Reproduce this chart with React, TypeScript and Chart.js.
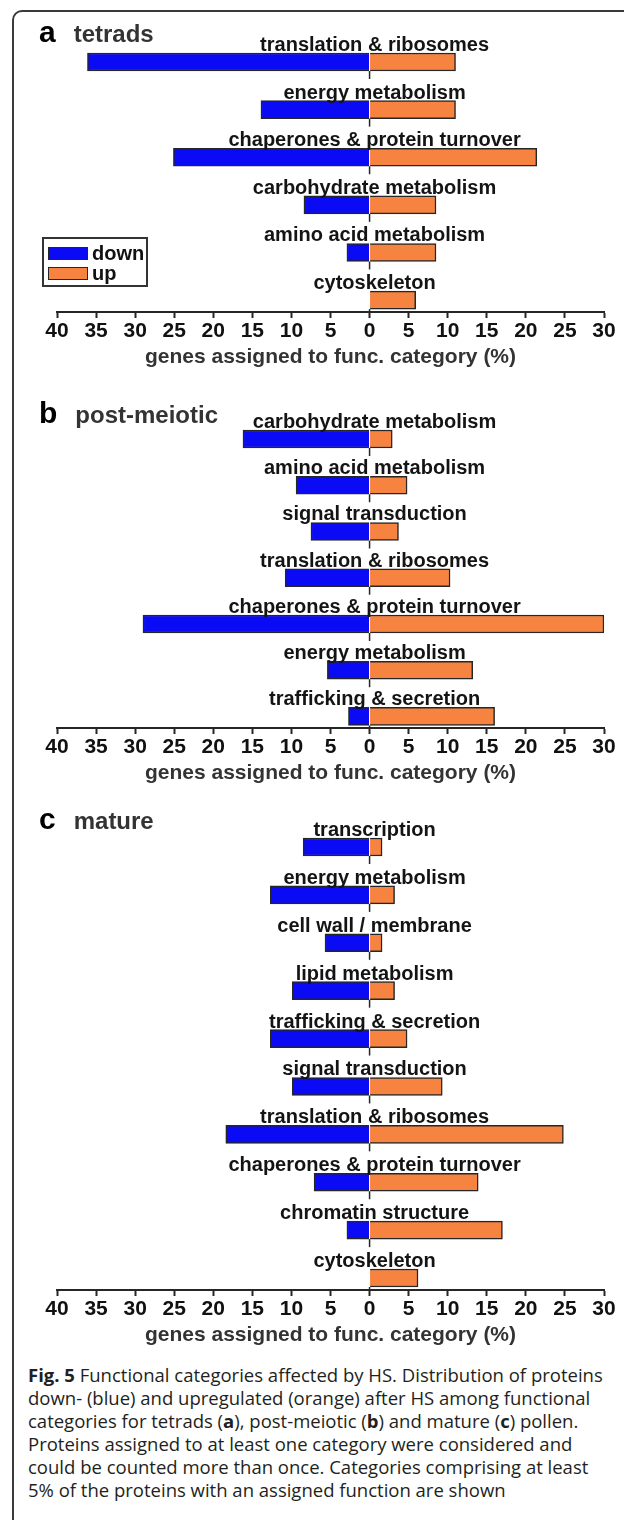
import React, { useEffect, useRef } from 'react';
import { Chart, registerables } from 'chart.js';

Chart.register(...registerables);

// ---------------- data ----------------
const tetradsCategories = [
  'translation & ribosomes',
  'energy metabolism',
  'chaperones & protein turnover',
  'carbohydrate metabolism',
  'amino acid metabolism',
  'cytoskeleton',
];
const tetradsDown = [36.1, 13.9, 25.1, 8.4, 2.9, 0];
const tetradsUp = [11.0, 11.0, 21.4, 8.5, 8.5, 5.9];

const postMeioticCategories = [
  'carbohydrate metabolism',
  'amino acid metabolism',
  'signal transduction',
  'translation & ribosomes',
  'chaperones & protein turnover',
  'energy metabolism',
  'trafficking & secretion',
];
const postMeioticDown = [16.2, 9.4, 7.5, 10.8, 29.0, 5.4, 2.7];
const postMeioticUp = [2.9, 4.8, 3.7, 10.3, 30.0, 13.2, 16.0];

const matureCategories = [
  'transcription',
  'energy metabolism',
  'cell wall / membrane',
  'lipid metabolism',
  'trafficking & secretion',
  'signal transduction',
  'translation & ribosomes',
  'chaperones & protein turnover',
  'chromatin structure',
  'cytoskeleton',
];
const matureDown = [8.5, 12.7, 5.7, 9.9, 12.7, 9.9, 18.4, 7.1, 2.9, 0];
const matureUp = [1.6, 3.2, 1.6, 3.2, 4.8, 9.3, 24.8, 13.9, 17.0, 6.2];

const axisMin = -40;
const axisMax = 30;
const tickStep = 5;
const axisTitle = 'genes assigned to func. category (%)';
const seriesNames = ['down', 'up'];

// ---------------- style ----------------
const BLUE = '#0a0af5';
const ORANGE = '#f6833f';
const EDGE = '#262626';
const FONT = '"Liberation Sans", Arial, Helvetica, sans-serif';
const BAR = 18;
const AXIS_BOX = 60;

const labelPlugin = {
  id: 'catLabels',
  beforeDatasetsDraw(chart: any) {
    const { ctx, scales, chartArea } = chart;
    const x = scales.x;
    const y = scales.y;
    const cats: string[] = chart.data.labels;
    const x0 = x.getPixelForValue(0);
    ctx.save();
    ctx.strokeStyle = EDGE;
    ctx.lineWidth = 1.5;
    cats.forEach((_c, i) => {
      const yc = y.getPixelForValue(i);
      const bottom = yc + BAR / 2;
      const end = i === cats.length - 1 ? chartArea.bottom : bottom + 8;
      ctx.beginPath();
      ctx.moveTo(x0, bottom);
      ctx.lineTo(x0, end);
      ctx.stroke();
    });
    ctx.restore();
  },
  afterDatasetsDraw(chart: any) {
    const { ctx, scales } = chart;
    const x = scales.x;
    const y = scales.y;
    const cats: string[] = chart.data.labels;
    const x0 = x.getPixelForValue(0);
    ctx.save();
    ctx.font = `bold 20px ${FONT}`;
    ctx.fillStyle = '#141414';
    ctx.textAlign = 'center';
    ctx.textBaseline = 'alphabetic';
    cats.forEach((c, i) => {
      const yc = y.getPixelForValue(i);
      ctx.fillText(c, x0 + 5, yc - BAR / 2 - 2);
    });
    ctx.restore();
  },
};

type PanelProps = {
  categories: string[];
  down: number[];
  up: number[];
  canvasTop: number;
  firstBar: number;
  slot: number;
};

function Panel({ categories, down, up, canvasTop, firstBar, slot }: PanelProps) {
  const ref = useRef<HTMLCanvasElement | null>(null);
  const n = categories.length;
  const chartTop = firstBar - 0.75 * slot;
  const chartBottom = chartTop + n * slot;
  const height = Math.round(chartBottom + AXIS_BOX - canvasTop);
  const padTop = chartTop - canvasTop;

  useEffect(() => {
    if (!ref.current) return;
    const chart = new Chart(ref.current, {
      type: 'bar',
      data: {
        labels: categories,
        datasets: [
          {
            label: seriesNames[0],
            data: down.map((v, i) => ({ x: -v, y: i })),
            backgroundColor: BLUE,
            borderColor: EDGE,
            borderWidth: 1.5,
            barThickness: BAR,
            grouped: false,
          } as any,
          {
            label: seriesNames[1],
            data: up.map((v, i) => ({ x: v, y: i })),
            backgroundColor: ORANGE,
            borderColor: EDGE,
            borderWidth: 1.5,
            barThickness: BAR,
            grouped: false,
          } as any,
        ],
      },
      options: {
        indexAxis: 'y',
        animation: false,
        responsive: false,
        maintainAspectRatio: false,
        devicePixelRatio: 1,
        layout: { padding: { left: 57, right: 20, top: padTop, bottom: 0 } },
        plugins: { legend: { display: false }, tooltip: { enabled: false } },
        scales: {
          y: {
            type: 'linear',
            reverse: true,
            offset: false,
            min: -0.75,
            max: n - 0.75,
            display: false,
          },
          x: {
            type: 'linear',
            min: axisMin,
            max: axisMax,
            afterFit: (s: any) => {
              s.height = AXIS_BOX;
            },
            ticks: {
              stepSize: tickStep,
              autoSkip: false,
              maxRotation: 0,
              padding: 1,
              color: '#111',
              font: { family: FONT, size: 21, weight: 'bold' },
              callback: (v: any) => String(Math.abs(Number(v))),
            },
            grid: {
              drawOnChartArea: false,
              drawTicks: true,
              tickLength: 6,
              tickWidth: 2,
              tickColor: EDGE,
            },
            border: { display: true, color: EDGE, width: 2 },
            title: {
              display: true,
              text: axisTitle,
              color: '#333',
              font: { family: FONT, size: 21, weight: 'bold' },
              padding: { top: 0, bottom: 2 },
            },
          },
        },
      } as any,
      plugins: [labelPlugin],
    });
    return () => chart.destroy();
  }, []);

  return (
    <canvas
      ref={ref}
      width={624}
      height={height}
      style={{ position: 'absolute', left: 0, top: canvasTop, width: 624, height }}
    />
  );
}

function Title({ letter, word, baseline }: { letter: string; word: string; baseline: number }) {
  return (
    <div
      style={{
        position: 'absolute',
        left: 39,
        top: baseline - 26,
        fontFamily: FONT,
        lineHeight: '30px',
        whiteSpace: 'nowrap',
        display: 'flex',
        alignItems: 'baseline',
      }}
    >
      <span style={{ fontSize: 30, fontWeight: 'bold', color: '#000' }}>{letter}</span>
      <span style={{ fontSize: 24, fontWeight: 'bold', color: '#333', marginLeft: 18 }}>{word}</span>
    </div>
  );
}

function Legend() {
  const sw = (color: string) => ({
    width: 38,
    height: 11,
    background: color,
    border: `1.5px solid ${EDGE}`,
    marginRight: 4,
  });
  return (
    <div
      style={{
        position: 'absolute',
        left: 42,
        top: 237,
        width: 106,
        height: 50,
        border: '2px solid #333',
        fontFamily: FONT,
        fontWeight: 'bold',
        fontSize: 20,
        color: '#111',
        padding: '4px 0 0 4px',
        boxSizing: 'border-box',
      }}
    >
      <div style={{ display: 'flex', alignItems: 'center', height: 20 }}>
        <div style={sw(BLUE)} />
        <span>{seriesNames[0]}</span>
      </div>
      <div style={{ display: 'flex', alignItems: 'center', height: 20 }}>
        <div style={sw(ORANGE)} />
        <span>{seriesNames[1]}</span>
      </div>
    </div>
  );
}

export default function App() {
  return (
    <div
      style={{
        position: 'absolute',
        left: 0,
        top: 0,
        width: 624,
        height: 1520,
        background: '#fff',
        overflow: 'hidden',
      }}
    >
      <div
        style={{
          position: 'absolute',
          left: 12,
          top: 10,
          width: 800,
          height: 1700,
          border: '2px solid #3a3a3a',
          borderRadius: 10,
        }}
      />
      <Panel categories={tetradsCategories} down={tetradsDown} up={tetradsUp} canvasTop={0} firstBar={62} slot={47.6} />
      <Panel
        categories={postMeioticCategories}
        down={postMeioticDown}
        up={postMeioticUp}
        canvasTop={380}
        firstBar={439}
        slot={46.2}
      />
      <Panel categories={matureCategories} down={matureDown} up={matureUp} canvasTop={790} firstBar={847} slot={47.9} />
      <Title letter="a" word="tetrads" baseline={43} />
      <Title letter="b" word="post-meiotic" baseline={424} />
      <Title letter="c" word="mature" baseline={830} />
      <Legend />
      <div
        style={{
          position: 'absolute',
          left: 28,
          top: 1363,
          fontFamily: '"Open Sans", "Noto Sans", sans-serif',
          fontSize: 18.5,
          lineHeight: '23px',
          color: '#231f20',
          whiteSpace: 'nowrap',
        }}
      >
        <b>Fig. 5</b> Functional categories affected by HS. Distribution of proteins
        <br />
        down- (blue) and upregulated (orange) after HS among functional
        <br />
        categories for tetrads (<b>a</b>), post-meiotic (<b>b</b>) and mature (<b>c</b>) pollen.
        <br />
        Proteins assigned to at least one category were considered and
        <br />
        could be counted more than once. Categories comprising at least
        <br />
        5% of the proteins with an assigned function are shown
      </div>
    </div>
  );
}
